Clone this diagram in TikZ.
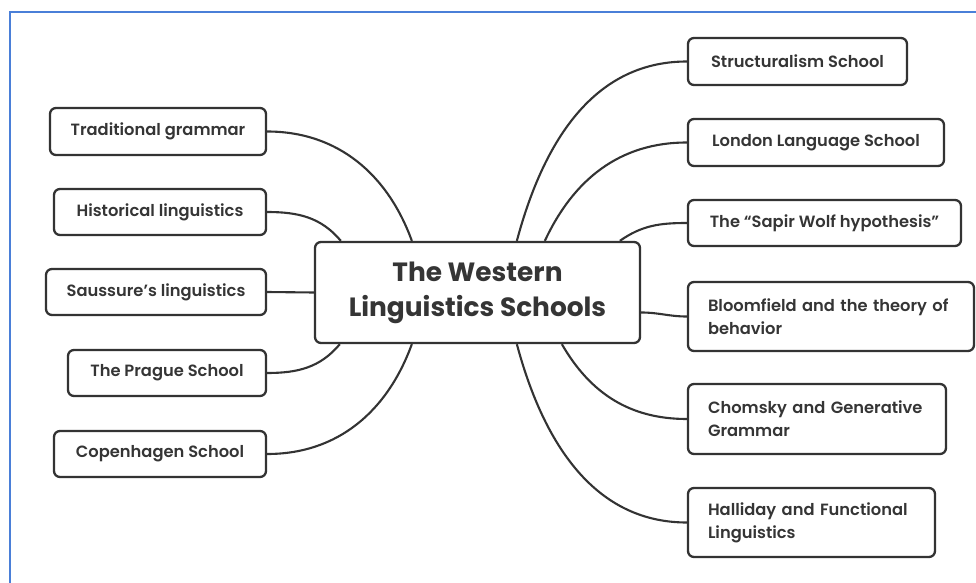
\documentclass[tikz,border=0pt]{standalone}
\usepackage{fontspec}
\setmainfont{Poppins}[UprightFont=* SemiBold, BoldFont=* Bold]
\usetikzlibrary{calc}
\definecolor{lc}{HTML}{333333}
\definecolor{tc}{HTML}{353535}
\definecolor{frameblue}{HTML}{4A7FD8}
\tikzset{
  leaf/.style={draw=lc, line width=2.3pt, rounded corners=6pt, text=tc,
    font=\fontsize{16.3}{23}\selectfont, inner sep=0pt, align=center},
  wrapleaf/.style={leaf, align=left, inner xsep=20pt},
  hub/.style={draw=lc, line width=2.3pt, rounded corners=6pt, text=tc,
    font=\fontsize{26.4}{35}\selectfont\bfseries, inner sep=0pt, align=center,
    minimum width=325pt, minimum height=101pt},
  link/.style={draw=lc, line width=2.1pt}
}
\begin{document}
\begin{tikzpicture}[x=1pt,y=1pt]
\useasboundingbox (0,0) rectangle (976,582);
\fill[white] (0,0) rectangle (976,582);
\draw[frameblue, line width=1.6pt] (10,-2) -- (10,570) -- (978,570);

\node[hub] (ctr) at (477.5,289.5) {The Western\\Linguistics Schools};

\node[leaf, minimum width=216pt, minimum height=47pt] (trad) at (158,450.5) {Traditional grammar};
\node[leaf, minimum width=212pt, minimum height=46pt] (hist) at (160,370) {Historical linguistics};
\node[leaf, minimum width=220pt, minimum height=46pt] (sauss) at (156,290) {Saussure’s linguistics};
\node[leaf, minimum width=198pt, minimum height=46pt] (prague) at (167,209) {The Prague School};
\node[leaf, minimum width=212pt, minimum height=46pt] (copen) at (160,128) {Copenhagen School};

\node[leaf, minimum width=219pt, minimum height=47pt] (struct) at (797.5,520.5) {Structuralism School};
\node[leaf, minimum width=256pt, minimum height=47pt] (london) at (816,439.5) {London Language School};
\node[leaf, minimum width=273pt, minimum height=46pt] (sapir) at (824.5,359) {The “Sapir Wolf hypothesis”};
\node[wrapleaf, text width=246pt, minimum height=69pt] (bloom) at (831,265.5) {Bloomfield and the theory of\\behavior};
\node[wrapleaf, text width=218pt, minimum height=70pt] (chom) at (817,163) {Chomsky and Generative\\Grammar};
\node[wrapleaf, text width=207pt, minimum height=69pt] (hall) at (811.5,59.5) {Halliday and Functional\\Linguistics};

\coordinate (tA) at ($(ctr.north west)+(98,0)$);
\coordinate (tB) at ($(ctr.north west)+(27,0)$);
\coordinate (bA) at ($(ctr.south west)+(26,0)$);
\coordinate (bB) at ($(ctr.south west)+(98,0)$);
\coordinate (tC) at ($(ctr.north west)+(203,0)$);
\coordinate (tD) at ($(ctr.north west)+(231,0)$);
\coordinate (tE) at ($(ctr.north west)+(306,0)$);
\coordinate (rA) at ($(ctr.east)+(0,-20)$);
\coordinate (bC) at ($(ctr.south west)+(248,0)$);
\coordinate (bD) at ($(ctr.south west)+(203,0)$);

\draw[link] (trad.east) to[out=0,in=110] (tA);
\draw[link] (hist.east) to[out=0,in=130] (tB);
\draw[link] (sauss.east) -- (ctr.west);
\draw[link] (prague.east) to[out=0,in=230] (bA);
\draw[link] (copen.east) to[out=0,in=250] (bB);

\draw[link] (struct.west) to[out=180,in=75] (tC);
\draw[link] (london.west) to[out=180,in=65] (tD);
\draw[link] (sapir.west) to[out=180,in=35] (tE);
\draw[link] (bloom.west) to[out=180,in=0] (rA);
\draw[link] (chom.west) to[out=180,in=-60] (bC);
\draw[link] (hall.west) to[out=180,in=-75] (bD);
\end{tikzpicture}
\end{document}
